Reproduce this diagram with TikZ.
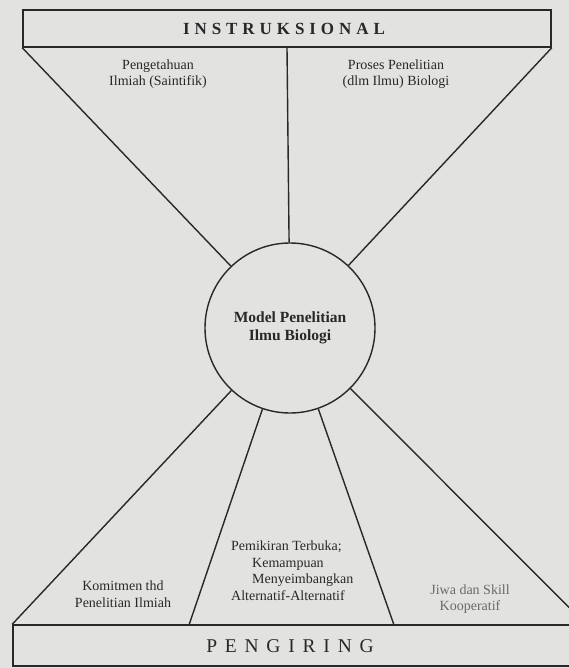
\documentclass[tikz,border=0pt]{standalone}
\usepackage{fontspec}
\setmainfont{Liberation Serif}
\newfontfamily\widecaps[LetterSpace=29]{Liberation Serif}
\newfontfamily\widercaps[LetterSpace=40]{Liberation Serif}
\definecolor{paper}{RGB}{226,226,224}
\definecolor{ink}{RGB}{40,40,40}

\begin{document}
\begin{tikzpicture}[x=1pt,y=-1pt,
    bar/.style={draw=ink,line width=1.5pt,rectangle,inner sep=0pt},
    spoke/.style={draw=ink,line width=1.4pt},
    lbl/.style={text=ink,font=\fontsize{14}{16.5}\selectfont,align=center,inner sep=0pt}]
  \useasboundingbox[fill=paper] (0,0) rectangle (569,668);
  \clip (0,0) rectangle (569,668);

  % boxes and circle
  \node[bar,minimum width=528pt,minimum height=37pt] (instr) at (287,28.5) {};
  \node[bar,minimum width=572pt,minimum height=41pt] (peng) at (299,645.5) {};
  \node[circle,draw=ink,line width=1.4pt,minimum size=170pt,inner sep=0pt,text=ink,
        align=center,font=\bfseries\fontsize{15.5}{18}\selectfont] (model) at (290,328)
        {Model Penelitian\\Ilmu Biologi};

  % spokes
  \coordinate (b1) at (189,625);
  \coordinate (b2) at (394,625);
  \draw[spoke] (instr.south west) -- (model);
  \draw[spoke] (instr.south) -- (model);
  \draw[spoke] (instr.south east) -- (model);
  \draw[spoke] (peng.north west) -- (model);
  \draw[spoke] (b1) -- (model);
  \draw[spoke] (b2) -- (model);
  \draw[spoke] (peng.north east) -- (model);

  % labels
  \node[text=ink,font=\widecaps\bfseries\fontsize{17}{20}\selectfont] (instrtxt) at (284,29) {INSTRUKSIONAL};
  \node[lbl] (pengetahuan) at (158,74) {Pengetahuan\\Ilmiah (Saintifik)};
  \node[lbl] (proses) at (396,74) {Proses Penelitian\\(dlm Ilmu) Biologi};
  \node[lbl] (komitmen) at (123,594) {Komitmen thd\\Penelitian Ilmiah};
  \node[lbl,align=left,anchor=north west] (pemikiran) at (231,541)
        {Pemikiran Terbuka;\\\hspace*{21pt}Kemampuan\\\hspace*{21pt}Menyeimbangkan\\Alternatif-Alternatif};
  \node[lbl,text=ink!70] (jiwa) at (470,599) {Jiwa dan Skill\\Kooperatif};
  \node[text=ink,font=\widercaps\fontsize{19.5}{22}\selectfont] (pengtxt) at (290,646) {PENGIRING};
\end{tikzpicture}
\end{document}
